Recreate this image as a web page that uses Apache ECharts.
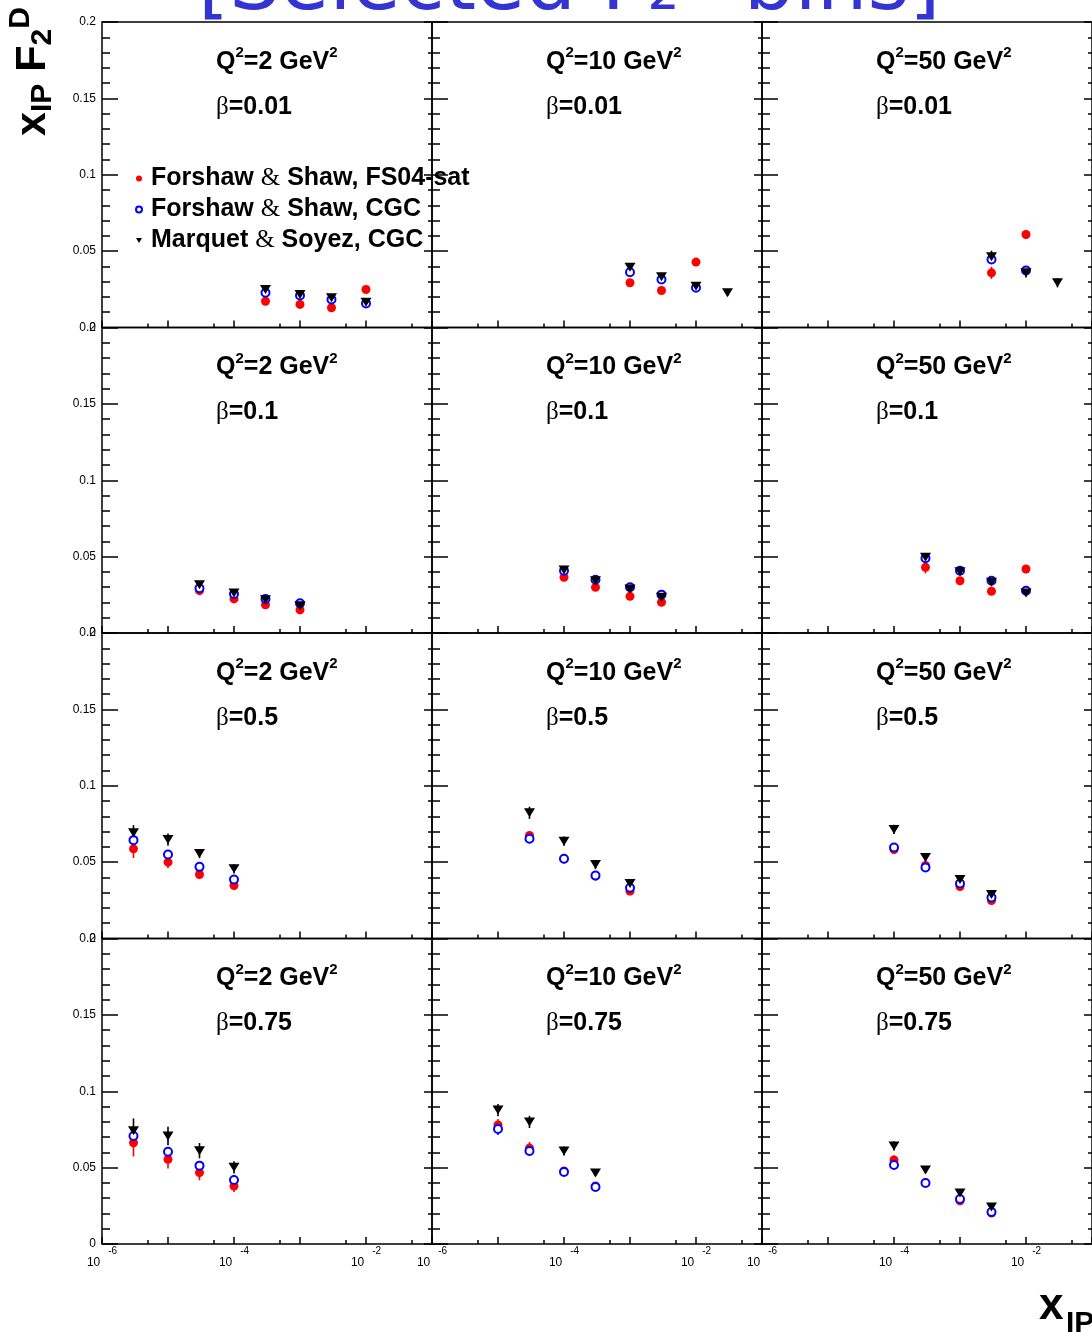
<!DOCTYPE html>
<html>
<head>
<meta charset="utf-8">
<script src="https://cdn.jsdelivr.net/npm/echarts@6.0.0/dist/echarts.min.js"></script>
<style>
html, body { margin: 0; padding: 0; background: #fff; }
#chart { width: 1092px; height: 1332px; }
</style>
</head>
<body>
<div id="chart"></div>
<script>
'use strict';

// panels are ordered row by row: beta rows, Q2 columns
var q2Values = [2, 10, 50];
var betaValues = ['0.01', '0.1', '0.5', '0.75'];
var xLabelExponents = [-6, -4, -2];
var seriesNames = ['Forshaw & Shaw, FS04-sat', 'Forshaw & Shaw, CGC', 'Marquet & Soyez, CGC'];

var xPoints = [
    [3e-4, 1e-3, 3e-3, 1e-2], [1e-3, 3e-3, 1e-2, 3e-2], [3e-3, 1e-2, 3e-2],
    [3e-5, 1e-4, 3e-4, 1e-3], [1e-4, 3e-4, 1e-3, 3e-3], [3e-4, 1e-3, 3e-3, 1e-2],
    [3e-6, 1e-5, 3e-5, 1e-4], [3e-5, 1e-4, 3e-4, 1e-3], [1e-4, 3e-4, 1e-3, 3e-3],
    [3e-6, 1e-5, 3e-5, 1e-4], [1e-5, 3e-5, 1e-4, 3e-4], [1e-4, 3e-4, 1e-3, 3e-3]
];

var fsSat = [
    [0.0172, 0.0151, 0.0129, 0.0249], [0.0293, 0.0242, 0.0428, null], [0.0358, 0.0609, null],
    [0.0277, 0.0223, 0.0185, 0.0151], [0.0365, 0.0299, 0.0240, 0.0201], [0.0430, 0.0342, 0.0273, 0.0419],
    [0.0587, 0.0500, 0.0419, 0.0347], [0.0674, 0.0520, 0.0408, 0.0310], [0.0583, 0.0478, 0.0340, 0.0249],
    [0.0663, 0.0554, 0.0467, 0.0380], [0.0779, 0.0628, 0.0478, 0.0380], [0.0550, 0.0400, 0.0282, 0.0203]
];
var fsSatErr = [
    [0.002, 0.002, 0.002, 0.002], [0.002, 0.002, 0.002, 0], [0.004, 0.003, 0],
    [0.002, 0.002, 0.002, 0.002], [0.002, 0.002, 0.002, 0.002], [0.004, 0.002, 0.002, 0.002],
    [0.006, 0.004, 0.003, 0.003], [0.003, 0.002, 0.002, 0.002], [0.003, 0.002, 0.002, 0.002],
    [0.009, 0.006, 0.005, 0.004], [0.004, 0.004, 0.002, 0.002], [0.003, 0.002, 0.002, 0.002]
];

var fsCgc = [
    [0.0227, 0.0209, 0.0183, 0.0157], [0.0362, 0.0314, 0.0260, null], [0.0445, 0.0373, null],
    [0.0293, 0.0255, 0.0223, 0.0194], [0.0408, 0.0349, 0.0299, 0.0251], [0.0489, 0.0408, 0.0342, 0.0277],
    [0.0644, 0.0550, 0.0469, 0.0386], [0.0653, 0.0522, 0.0412, 0.0332], [0.0596, 0.0465, 0.0360, 0.0268],
    [0.0707, 0.0604, 0.0513, 0.0419], [0.0753, 0.0609, 0.0471, 0.0373], [0.0517, 0.0399, 0.0295, 0.0210]
];
var fsCgcErr = [
    [0.002, 0.002, 0.002, 0.002], [0.002, 0.002, 0.002, 0], [0.003, 0.003, 0],
    [0.002, 0.002, 0.002, 0.002], [0.002, 0.002, 0.002, 0.002], [0.002, 0.002, 0.002, 0.002],
    [0.003, 0.002, 0.002, 0.002], [0.003, 0.002, 0.002, 0.002], [0.002, 0.002, 0.002, 0.002],
    [0.004, 0.003, 0.003, 0.003], [0.004, 0.003, 0.002, 0.002], [0.002, 0.002, 0.002, 0.002]
];

var msCgc = [
    [0.0249, 0.0216, 0.0194, 0.0166], [0.0395, 0.0332, 0.0270, 0.0227], [0.0463, 0.0358, 0.0293],
    [0.0316, 0.0262, 0.0218, 0.0179], [0.0412, 0.0342, 0.0288, 0.0234], [0.0496, 0.0401, 0.0332, 0.0262],
    [0.0692, 0.0648, 0.0556, 0.0456], [0.0823, 0.0637, 0.0484, 0.0360], [0.0714, 0.0530, 0.0386, 0.0288],
    [0.0742, 0.0707, 0.0611, 0.0502], [0.0877, 0.0799, 0.0609, 0.0465], [0.0642, 0.0484, 0.0334, 0.0242]
];
var msCgcErr = [
    [0.002, 0.002, 0.002, 0.002], [0.002, 0.002, 0.002, 0.002], [0.004, 0.003, 0.003],
    [0.002, 0.002, 0.002, 0.002], [0.002, 0.002, 0.002, 0.002], [0.002, 0.002, 0.002, 0.002],
    [0.005, 0.004, 0.003, 0.003], [0.004, 0.003, 0.003, 0.002], [0.003, 0.003, 0.002, 0.002],
    [0.008, 0.006, 0.005, 0.004], [0.004, 0.004, 0.003, 0.002], [0.003, 0.002, 0.002, 0.002]
];

var chart = echarts.init(document.getElementById('chart'));

var LEFT = 102, TOP = 22, CELL_W = 330, CELL_H = 305.5;
var FONT = 'Liberation Sans';
var downTriangle = 'path://M0,0 L10,0 L5,8 Z';
var models = [
    {name: seriesNames[0], vals: fsSat, errs: fsSatErr, color: '#ff0000', symbol: 'circle', size: 9, border: 0},
    {name: seriesNames[1], vals: fsCgc, errs: fsCgcErr, color: '#0000ff', symbol: 'emptyCircle', size: 8, border: 2.6},
    {name: seriesNames[2], vals: msCgc, errs: msCgcErr, color: '#000000', symbol: downTriangle, size: [11, 9], border: 0}
];

// 5 x 10^n ticks of the log axis
var halfDecadeTicks = [];
for (var ex = -6; ex < -1; ex++) {
    halfDecadeTicks.push(ex + Math.log10(5));
}

var grids = [], xAxes = [], yAxes = [], series = [], graphics = [];
var tickLine = {color: '#000', width: 1.5};

for (var r = 0; r < 4; r++) {
    for (var c = 0; c < 3; c++) {
        var p = r * 3 + c;
        var gl = LEFT + c * CELL_W, gt = TOP + r * CELL_H;
        grids.push({
            left: gl, top: gt, width: CELL_W, height: CELL_H,
            show: true, borderColor: '#000', borderWidth: 1.5, backgroundColor: 'transparent'
        });
        xAxes.push({
            gridIndex: p, type: 'value', position: 'bottom', min: -6, max: -1, interval: 1,
            axisLine: {show: false, onZero: false},
            axisTick: {show: true, inside: true, length: 7, lineStyle: tickLine},
            splitLine: {show: false},
            axisLabel: {
                show: r === 3, customValues: xLabelExponents, margin: 2,
                formatter: function (v) {
                    return '{b|10}{s|' + v + '}';
                },
                rich: {
                    b: {fontSize: 12, fontFamily: FONT, color: '#000', padding: [11, 0, 0, 0]},
                    s: {fontSize: 10, fontFamily: FONT, color: '#000', verticalAlign: 'top', padding: [0, 0, 0, 8]}
                }
            }
        });
        xAxes.push({
            gridIndex: p, type: 'value', position: 'bottom', min: -6, max: -1,
            axisLine: {show: false, onZero: false},
            axisTick: {show: true, inside: true, length: 4, customValues: halfDecadeTicks, lineStyle: tickLine},
            splitLine: {show: false},
            axisLabel: {show: false}
        });
        yAxes.push({
            gridIndex: p, type: 'value', position: 'left', min: 0, max: 0.2, interval: 0.05,
            axisLine: {show: false, onZero: false},
            axisTick: {show: true, inside: true, length: 16, lineStyle: tickLine},
            minorTick: {show: true, splitNumber: 5, length: 8, lineStyle: tickLine},
            splitLine: {show: false},
            axisLabel: {show: c === 0, margin: 6, fontSize: 12, fontFamily: FONT, color: '#000'}
        });
        yAxes.push({
            gridIndex: p, type: 'value', position: 'right', min: 0, max: 0.2, interval: 0.05,
            axisLine: {show: false, onZero: false},
            axisTick: {show: true, inside: true, length: 8, lineStyle: tickLine},
            minorTick: {show: true, splitNumber: 5, length: 4, lineStyle: tickLine},
            splitLine: {show: false},
            axisLabel: {show: false}
        });

        models.forEach(function (m) {
            var pts = [], bars = [];
            for (var i = 0; i < xPoints[p].length; i++) {
                if (m.vals[p][i] == null) continue;
                var lx = Math.log10(xPoints[p][i]);
                pts.push([lx, m.vals[p][i]]);
                bars.push([lx, m.vals[p][i], m.errs[p][i]]);
            }
            series.push({
                type: 'custom', xAxisIndex: 2 * p, yAxisIndex: 2 * p, silent: true, z: 1,
                encode: {x: 0, y: 1},
                renderItem: (function (col) {
                    return function (params, api) {
                        var a = api.coord([api.value(0), api.value(1) - api.value(2)]);
                        var b = api.coord([api.value(0), api.value(1) + api.value(2)]);
                        return {
                            type: 'line',
                            shape: {x1: a[0], y1: a[1], x2: b[0], y2: b[1]},
                            style: {stroke: col, lineWidth: 1.6}
                        };
                    };
                })(m.color),
                data: bars
            });
            series.push({
                name: m.name, type: 'scatter', xAxisIndex: 2 * p, yAxisIndex: 2 * p, z: 3,
                symbol: m.symbol, symbolSize: m.size,
                itemStyle: {color: m.color, borderColor: m.color, borderWidth: m.border, opacity: 1},
                emphasis: {disabled: true},
                data: pts
            });
        });

        graphics.push({
            type: 'text', x: gl + 114, y: gt + 38, silent: true,
            style: {
                text: '{q|Q}{s|2}{q|=' + q2Values[c] + ' GeV}{s|2}',
                verticalAlign: 'middle',
                rich: {
                    q: {fontSize: 25, fontWeight: 'bold', fontFamily: FONT, fill: '#000', padding: [4, 0, 0, 0]},
                    s: {fontSize: 15, fontWeight: 'bold', fontFamily: FONT, fill: '#000', verticalAlign: 'top'}
                }
            }
        });
        graphics.push({
            type: 'text', x: gl + 114, y: gt + 85, silent: true,
            style: {
                text: '{g|β}{t|=' + betaValues[r] + '}',
                verticalAlign: 'middle',
                rich: {
                    g: {fontSize: 25, fontFamily: 'Liberation Serif', fill: '#000'},
                    t: {fontSize: 25, fontWeight: 'bold', fontFamily: FONT, fill: '#000'}
                }
            }
        });
    }
}

// axis titles
graphics.push({
    type: 'text', x: 58, y: 136, rotation: Math.PI / 2, silent: true,
    style: {
        text: '{m|x}{sub|IP}{m| F}{sub|2}{sup|D}',
        align: 'left', verticalAlign: 'bottom',
        rich: {
            m: {fontSize: 43, fontWeight: 'bold', fontFamily: FONT, fill: '#000', verticalAlign: 'top', padding: [6, 0, 0, 0]},
            sub: {fontSize: 30, fontWeight: 'bold', fontFamily: FONT, fill: '#000', verticalAlign: 'top', padding: [22, 0, 0, 0]},
            sup: {fontSize: 30, fontWeight: 'bold', fontFamily: FONT, fill: '#000', verticalAlign: 'top'}
        }
    }
});
graphics.push({
    type: 'text', x: 1039, y: 1307, silent: true,
    style: {text: 'x', fontSize: 44, fontWeight: 'bold', fontFamily: FONT, fill: '#000', verticalAlign: 'middle'}
});
graphics.push({
    type: 'text', x: 1066, y: 1324, silent: true,
    style: {text: 'IP', fontSize: 30, fontWeight: 'bold', fontFamily: FONT, fill: '#000', verticalAlign: 'middle'}
});
// clipped slide heading above the figure
graphics.push({
    type: 'text', x: 198, y: -12, silent: true,
    style: {
        text: '[Selected F\u2082\u1D30 bins]',
        fontSize: 80, fontFamily: 'DejaVu Sans', fill: '#3434d2', verticalAlign: 'middle',
        shadowColor: 'rgba(0,0,0,0.35)', shadowOffsetX: 3, shadowOffsetY: 3, shadowBlur: 2
    }
});

chart.setOption({
    animation: false,
    backgroundColor: '#fff',
    grid: grids,
    xAxis: xAxes,
    yAxis: yAxes,
    legend: {
        data: [
            {name: seriesNames[0], icon: 'circle'},
            {name: seriesNames[1], icon: 'emptyCircle'},
            {name: seriesNames[2], icon: downTriangle}
        ],
        orient: 'vertical', left: 130, top: 161,
        itemWidth: 6, itemHeight: 6, itemGap: 6,
        selectedMode: false,
        formatter: function (name) {
            return name.replace('&', '{amp|&}');
        },
        textStyle: {
            fontSize: 25, fontWeight: 'bold', fontFamily: FONT, color: '#000', lineHeight: 25,
            padding: [0, 0, 0, 4],
            rich: {amp: {fontSize: 25, fontFamily: 'Liberation Serif', color: '#000', fontWeight: 'normal'}}
        }
    },
    series: series,
    graphic: graphics
});
</script>
</body>
</html>
